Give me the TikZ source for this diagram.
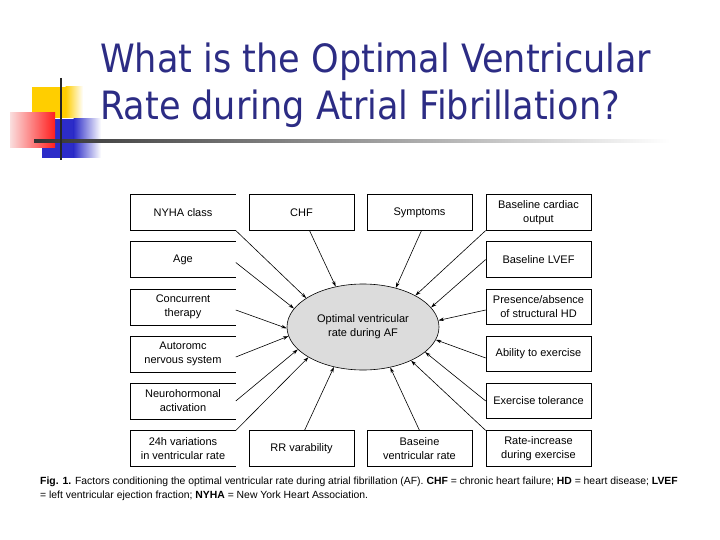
\documentclass[tikz,border=0pt]{standalone}
\usepackage{fontspec}
\setmainfont{Liberation Sans}
\newfontfamily\titlefont{DejaVu Sans Condensed}
\usetikzlibrary{shapes.geometric,arrows.meta,calc}
\definecolor{titleblue}{RGB}{44,44,132}
\definecolor{decoyellow}{RGB}{255,206,0}
\definecolor{decoblue}{RGB}{44,44,200}
\definecolor{decored}{RGB}{255,30,30}
\definecolor{decopink}{RGB}{250,222,222}
\definecolor{ellgray}{RGB}{220,220,220}
\tikzset{
  box/.style={draw=black, line width=0.6pt, minimum width=105pt, minimum height=35.5pt,
    inner sep=1pt, align=center, font=\fontsize{11}{14}\selectfont},
  leftbox/.style={box, draw=none},
  conn/.style={line width=0.6pt, -{Stealth[length=5.5pt,width=3.5pt]}},
}
\begin{document}
\begin{tikzpicture}[x=1pt,y=-1pt]
\useasboundingbox (0,0) rectangle (720,540);
% decoration
\fill[decoyellow] (32,87) rectangle (66,118);
\shade[left color=decoyellow, right color=white] (65.5,87) rectangle (83,118);
\fill[decoblue] (42,119) rectangle (74,158);
\shade[left color=decoblue, right color=white] (73.5,119) rectangle (101,158);
\shade[left color=decopink, right color=decored] (10,113) rectangle (55,148);
\shade[left color=black!80, right color=black!35] (34,139.8) rectangle (400,142.4);
\shade[left color=black!35, right color=white] (399.5,139.8) rectangle (670,142.4);
\draw[line width=2pt, black!85] (61,78) -- (61,160);
% title
\node[anchor=base west, text=titleblue, font=\titlefont\fontsize{39}{46}\selectfont, inner sep=0pt] (t1) at (100,73) {What is the Optimal Ventricular};
\node[anchor=base west, text=titleblue, font=\titlefont\fontsize{39}{46}\selectfont, inner sep=0pt] (t2) at (100,120) {Rate during Atrial Fibrillation?};
% central ellipse
\node[ellipse, draw=black, line width=0.6pt, fill=ellgray, minimum width=152pt, minimum height=86pt,
  align=center, font=\fontsize{11}{14}\selectfont] (opt) at (363,327) {Optimal ventricular\\rate during AF};
% boxes, left column
\node[leftbox] (nyha) at (183,212.5) {NYHA class};
\node[leftbox] (age) at (183,259.5) {Age};
\node[leftbox] (conc) at (183,307) {Concurrent\\therapy};
\node[leftbox] (ans) at (183,354) {Autoromc\\nervous system};
\node[leftbox] (neuro) at (183,401) {Neurohormonal\\activation};
\node[leftbox] (h24) at (183,448.5) {24h variations\\in ventricular rate};
\foreach \n in {nyha,age,conc,ans,neuro,h24}
  \draw[line width=0.6pt] (\n.north east) -- (\n.north west) -- (\n.south west) -- (\n.south east);
% top row
\node[box] (chf) at (301.5,212.5) {CHF};
\node[box] (sym) at (419.5,212.5) {Symptoms};
% right column
\node[box] (co) at (538.5,212.5) {Baseline cardiac\\output};
\node[box] (lvef) at (538.5,259.5) {Baseline LVEF};
\node[box] (pres) at (538.5,307) {Presence/absence\\of structural HD};
\node[box] (ab) at (538.5,354) {Ability to exercise};
\node[box] (et) at (538.5,401) {Exercise tolerance};
\node[box] (ri) at (538.5,448.5) {Rate-increase\\during exercise};
% bottom row
\node[box] (rr) at (301.5,448.5) {RR varability};
\node[box] (bvr) at (419.5,448.5) {Baseine\\ventricular rate};
% connectors
\draw[conn] (nyha.south east) -- (opt.153);
\draw[conn] ([xshift=8pt]chf.south) -- (opt.124);
\draw[conn] ([xshift=2pt]sym.south) -- (opt.50);
\draw[conn] (co.south west) -- (opt.31);
\draw[conn] ([yshift=-3pt]age.east) -- (opt.165);
\draw[conn] ([yshift=-3pt]conc.east) -- (opt.181);
\draw[conn] ([yshift=-3pt]ans.east) -- (opt.187);
\draw[conn] (neuro.east) -- (opt.199);
\draw[conn] (h24.north east) -- (opt.209);
\draw[conn] ([xshift=3pt]rr.north) -- (opt.234);
\draw[conn] (bvr.north) -- (opt.304);
\draw[conn] (ri.north west) -- (opt.325);
\draw[conn] (et.west) -- (opt.338);
\draw[conn] ([yshift=-4pt]ab.west) -- (opt.350);
\draw[conn] ([yshift=-3pt]pres.west) -- (opt.5);
\draw[conn] (lvef.west) -- (opt.16);
% caption
\node[anchor=base west, inner sep=0pt, font=\fontsize{10.4}{13}\selectfont] (cap1) at (40,484)
  {\textbf{Fig. 1.} Factors conditioning the optimal ventricular rate during atrial fibrillation (AF). \textbf{CHF} = chronic heart failure; \textbf{HD} = heart disease; \textbf{LVEF}};
\node[anchor=base west, inner sep=0pt, font=\fontsize{10.4}{13}\selectfont] (cap2) at (40,498)
  {= left ventricular ejection fraction; \textbf{NYHA} = New York Heart Association.};
\end{tikzpicture}
\end{document}
